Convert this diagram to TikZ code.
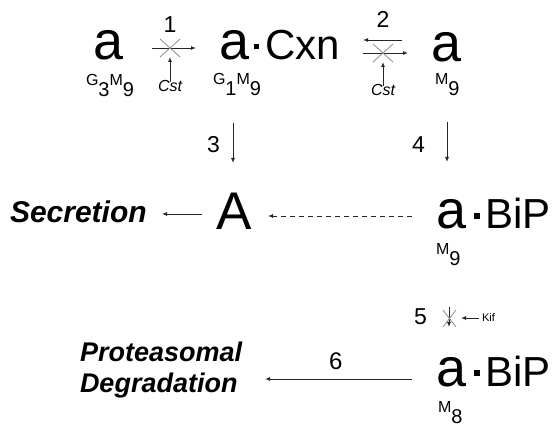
\documentclass[tikz,border=0pt]{standalone}
\usepackage{fontspec}
\setmainfont{Liberation Sans}
\usetikzlibrary{arrows.meta}
\newcommand\fs[1]{\fontsize{#1}{#1}\selectfont}
\newcommand\gsub[2]{{\fs{16}#1}{\fs{20}\raisebox{-11pt}{#2}}}
\newcommand\sqdot[2]{\raisebox{#1}{\rule{#2}{#2}}}
\begin{document}
\begin{tikzpicture}[x=1pt,y=-1pt,
  every node/.style={inner sep=0pt, outer sep=0pt, anchor=base west},
  conn/.style={-{Latex[length=5pt,width=4pt]}, line width=0.9pt, draw=black!85},
  dconn/.style={conn, dash pattern=on 5pt off 4pt},
  xmark/.style={draw=black!45, line width=0.8pt},
  big/.style={font=\fs{54}},
  num/.style={font=\fs{23}},
  lab/.style={font=\fs{30}\bfseries\itshape},
  lab2/.style={font=\fs{27}\bfseries\itshape},
  cst/.style={font=\fs{16}\itshape, anchor=base}]
\useasboundingbox (0,0) rectangle (554,427);

% ---- top row ----
\node[big] (a1) at (93,60) {a};
\node (g3m9) at (86,86) {\gsub{G}{3}\gsub{M}{9}};
\node[num, anchor=base] (n1) at (170,33) {1};
\coordinate (r1s) at (152,48); \coordinate (r1e) at (196,48);
\draw[conn] (r1s) -- (r1e);
\draw[xmark] (160,39) -- (180,57) (160,57) -- (180,39);
\node[cst] (cst1) at (170,92) {Cst};
\coordinate (c1e) at (170,57);
\draw[conn] ([yshift=-1pt]cst1.north) -- (c1e);

\node (cxn) at (219,60) {{\fs{54}a}\hspace{5pt}\sqdot{11pt}{5pt}\hspace{6pt}{\fs{42}Cxn}};
\node (g1m9) at (213,85) {\gsub{G}{1}\gsub{M}{9}};

\node[num, anchor=base] (n2) at (383,28) {2};
\coordinate (r2a) at (402,40); \coordinate (r2b) at (363,40);
\coordinate (r2c) at (363,53); \coordinate (r2d) at (408,53);
\draw[conn] (r2a) -- (r2b);
\draw[conn] (r2c) -- (r2d);
\draw[xmark] (373,44) -- (393,62) (373,62) -- (393,44);
\node[cst] (cst2) at (383,96) {Cst};
\coordinate (c2e) at (383,62);
\draw[conn] ([yshift=-1pt]cst2.north) -- (c2e);

\node[big] (a3) at (431,62) {a};
\node (m9a) at (435,85) {\gsub{M}{9}};

% ---- middle row ----
\node[num] (n3) at (207,153) {3};
\coordinate (r3s) at (233,123); \coordinate (r3e) at (233,163);
\draw[conn] (r3s) -- (r3e);
\node[num] (n4) at (412,153) {4};
\coordinate (r4s) at (447,122); \coordinate (r4e) at (447,162);
\draw[conn] (r4s) -- (r4e);

\node[lab] (sec) at (10,223) {Secretion};
\node[font=\fs{53}] (A) at (216,230) {A};
\coordinate (sA) at (202,214); \coordinate (sS) at (162,214);
\draw[conn] (sA) -- (sS);
\node (bip1) at (436,229) {{\fs{54}a}\hspace{8pt}\sqdot{10pt}{6pt}\hspace{5pt}{\fs{42}BiP}};
\node (m9b) at (436,255) {\gsub{M}{9}};
\coordinate (dB) at (412,216); \coordinate (dA) at (268,216);
\draw[dconn] (dB) -- (dA);

% ---- step 5 ----
\node[num] (n5) at (414,325) {5};
\coordinate (r5s) at (449,307); \coordinate (r5e) at (449,327);
\draw[conn] (r5s) -- (r5e);
\draw[xmark] (443,310) -- (456,327) (443,327) -- (456,310);
\node[font=\fs{11}] (kif) at (482,322) {Kif};
\coordinate (k5) at (461,318);
\draw[conn] ([xshift=-3pt]kif.west |- k5) -- (k5);

% ---- bottom row ----
\node (bip2) at (436,386) {{\fs{54}a}\hspace{8pt}\sqdot{10pt}{6pt}\hspace{5pt}{\fs{42}BiP}};
\node (m8) at (438,412) {\gsub{M}{8}};
\node[num, font=\fs{24}] (n6) at (329,370) {6};
\coordinate (r6s) at (412,379); \coordinate (r6e) at (265,379);
\draw[conn] (r6s) -- (r6e);
\node[lab2] (prot) at (80,362) {Proteasomal};
\node[lab2] (deg) at (80,392) {Degradation};
\end{tikzpicture}
\end{document}
